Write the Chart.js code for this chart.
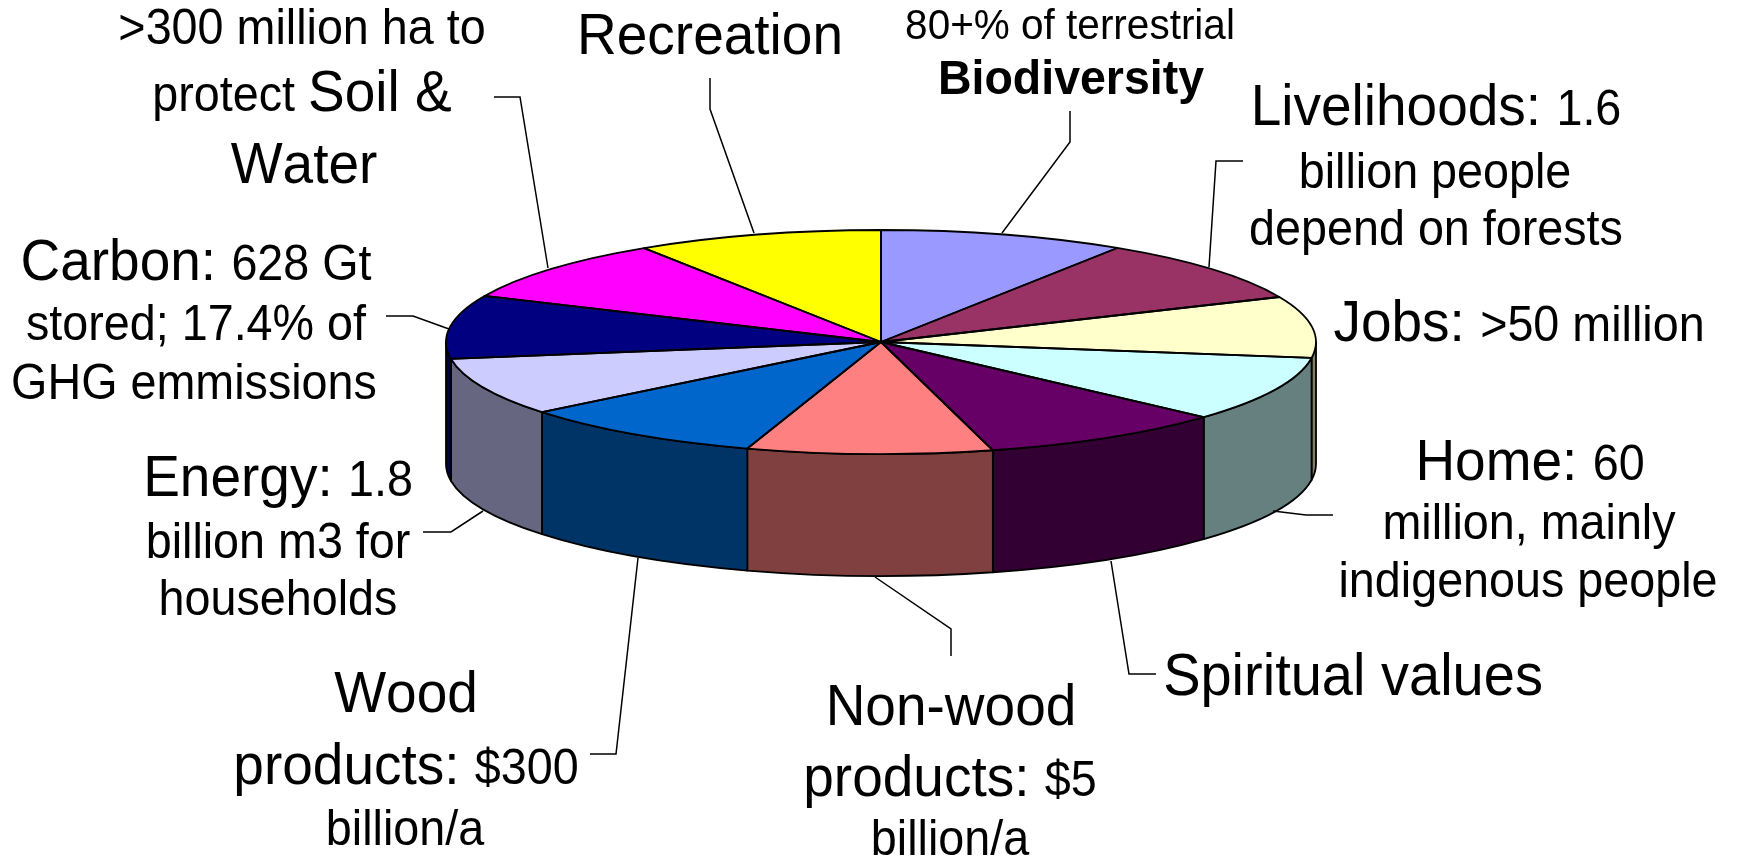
<!DOCTYPE html>
<html>
<head>
<meta charset="utf-8">
<title>Forest values</title>
<script src="https://cdn.jsdelivr.net/npm/chart.js@4/dist/chart.umd.min.js"></script>
<style>
html, body { margin: 0; padding: 0; background: #fff; }
canvas { display: block; }
</style>
</head>
<body>
<canvas id="pie" width="1739" height="859"></canvas>
<script>
// one slice per forest value, clockwise from the top; degrees
var categories = ["Biodiversity", "Livelihoods", "Jobs", "Home", "Spiritual values", "Non-wood products",
    "Wood products", "Energy", "Carbon", "Soil & Water", "Recreation"];
var values = [32.9, 33.4, 31.9, 33.9, 33, 32.8, 33.3, 30.1, 33, 32.7, 33];
var topColours = ["#9999FF", "#993366", "#FFFFCC", "#CCFFFF", "#660066", "#FF8080",
    "#0066CC", "#CCCCFF", "#000080", "#FF00FF", "#FFFF00"];
var sideColours = ["#4D4D80", "#4D1A33", "#808066", "#668080", "#330033", "#804040",
    "#003366", "#666680", "#000040", "#800080", "#808000"];

// text runs: [centre x, baseline y, [text, size, bold]...]
var BIG = 55, SMALL = 46.7;
var labelLines = [
    [302, 44, [">300 million ha to", SMALL]],
    [302, 111, ["protect ", SMALL], ["Soil &", BIG]],
    [304, 183, ["Water", BIG]],
    [710, 54, ["Recreation", BIG]],
    [1070, 39, ["80+% of terrestrial", 40.5]],
    [1071, 94, ["Biodiversity", 46.5, true]],
    [1436, 125, ["Livelihoods: ", BIG], ["1.6", SMALL]],
    [1435, 188, ["billion people", SMALL]],
    [1436, 245, ["depend on forests", SMALL]],
    [1519, 341, ["Jobs: ", BIG], [">50 million", SMALL]],
    [1530, 480, ["Home: ", BIG], ["60", SMALL]],
    [1529, 539, ["million, mainly", SMALL]],
    [1528, 597, ["indigenous people", SMALL]],
    [1353, 695, ["Spiritual values", 56]],
    [951, 725, ["Non-wood", BIG]],
    [950, 796, ["products: ", BIG], ["$5", SMALL]],
    [950, 855, ["billion/a", SMALL]],
    [406, 712, ["Wood", BIG]],
    [406, 784, ["products: ", BIG], ["$300", SMALL]],
    [405, 845, ["billion/a", SMALL]],
    [278, 496, ["Energy: ", BIG], ["1.8", SMALL]],
    [278, 558, ["billion m3 for", SMALL]],
    [278, 615, ["households", SMALL]],
    [196, 280, ["Carbon: ", BIG], ["628 Gt", SMALL]],
    [196, 340, ["stored; 17.4% of", SMALL]],
    [194, 399, ["GHG emmissions", SMALL]]
];

var leaderLines = [
    [[494, 97], [520, 97], [548, 268]],
    [[710, 78], [710, 109], [754, 233]],
    [[1070, 111], [1070, 142], [1002, 233]],
    [[1243, 161], [1216, 161], [1209, 267]],
    [[1333, 515], [1306, 515], [1273, 511]],
    [[1156, 674], [1129, 674], [1111, 561]],
    [[951, 656], [951, 629], [875, 577]],
    [[590, 754], [616, 754], [638, 558]],
    [[423, 532], [451, 532], [483, 511]],
    [[386, 316], [413, 316], [449, 329]]
];

// the flat disc on screen
var RX = 435, RY = 112, DEPTH = 122;

function visibleSide(arc) {
    // angles folded so the front half of the disc is 0..PI
    var tau = Math.PI * 2;
    var a = arc.startAngle, b = arc.endAngle;
    while (a < 0) { a += tau; b += tau; }
    while (a >= tau) { a -= tau; b -= tau; }
    if (a >= Math.PI && b <= tau) return null;
    if (a >= Math.PI) a = tau;
    return [a, Math.min(b, a >= tau ? b : Math.PI)];
}

var pie3d = {
    id: "pie3d",
    beforeDatasetsDraw(chart) {
        var ctx = chart.ctx;
        var arcs = chart.getDatasetMeta(0).data;
        ctx.save();
        ctx.lineWidth = 1.8;
        ctx.strokeStyle = "#000";
        ctx.lineJoin = "round";
        arcs.forEach(function(arc, i) {
            var side = visibleSide(arc);
            if (!side) return;
            ctx.beginPath();
            ctx.ellipse(arc.x, arc.y, RX, RY, 0, side[0], side[1]);
            ctx.ellipse(arc.x, arc.y + DEPTH, RX, RY, 0, side[1], side[0], true);
            ctx.closePath();
            ctx.fillStyle = sideColours[i];
            ctx.fill();
            ctx.stroke();
        });
        ctx.restore();
        // squash the library's round pie into the top of the disc
        var first = arcs[0];
        ctx.save();
        ctx.translate(first.x, first.y);
        ctx.scale(RX / first.outerRadius, RY / first.outerRadius);
        ctx.translate(-first.x, -first.y);
    },
    afterDatasetsDraw(chart) {
        var ctx = chart.ctx;
        ctx.restore();
        ctx.save();
        ctx.lineWidth = 1.8;
        ctx.strokeStyle = "#000";
        ctx.lineJoin = "round";
        chart.getDatasetMeta(0).data.forEach(function(arc) {
            ctx.beginPath();
            ctx.moveTo(arc.x, arc.y);
            ctx.ellipse(arc.x, arc.y, RX, RY, 0, arc.startAngle, arc.endAngle);
            ctx.closePath();
            ctx.stroke();
        });
        ctx.restore();
    },
    afterDraw(chart) {
        var ctx = chart.ctx;
        ctx.save();
        ctx.lineWidth = 1.5;
        ctx.strokeStyle = "#000";
        leaderLines.forEach(function(line) {
            ctx.beginPath();
            line.forEach(function(p, i) {
                if (i === 0) ctx.moveTo(p[0], p[1]);
                else ctx.lineTo(p[0], p[1]);
            });
            ctx.stroke();
        });
        ctx.fillStyle = "#000";
        ctx.textBaseline = "alphabetic";
        ctx.textAlign = "left";
        // the original has the wide W-a gap
        ctx.fontKerning = "none";
        ctx.textRendering = "optimizeSpeed";
        labelLines.forEach(function(line) {
            var runs = line.slice(2);
            var fonts = runs.map(function(r) {
                return (r[2] ? "bold " : "") + r[1] + 'px "Liberation Sans"';
            });
            var total = 0;
            var widths = runs.map(function(r, i) {
                ctx.font = fonts[i];
                var w = ctx.measureText(r[0]).width;
                total += w;
                return w;
            });
            var x = line[0] - total / 2;
            runs.forEach(function(r, i) {
                ctx.font = fonts[i];
                // letters in the original are a little taller than the font
                ctx.save();
                ctx.translate(x, line[1]);
                ctx.scale(1, 1.05);
                ctx.fillText(r[0], 0, 0);
                ctx.restore();
                x += widths[i];
            });
        });
        ctx.restore();
    }
};

new Chart(document.getElementById("pie"), {
    type: "pie",
    data: {
        labels: categories,
        datasets: [{ data: values, backgroundColor: topColours, borderWidth: 0 }]
    },
    options: {
        responsive: false,
        animation: false,
        layout: { padding: { left: 539, right: 516, top: 0, bottom: 175 } },
        plugins: { legend: { display: false }, tooltip: { enabled: false } }
    },
    plugins: [pie3d]
});
</script>
</body>
</html>
